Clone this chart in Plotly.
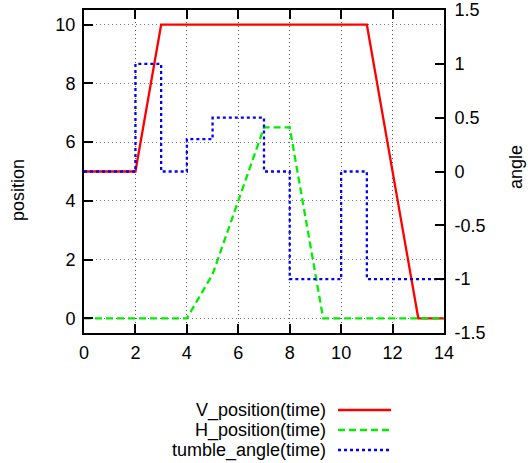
import plotly.graph_objects as go

# Data
v_time = [0, 2, 3, 11, 13, 14]
v_position = [5, 5, 10, 10, 0, 0]

h_time = [0, 4, 5, 6, 7, 8, 9.3, 14]
h_position = [0, 0, 1.5, 4, 6.5, 6.5, 0, 0]

a_time = [0, 1, 2, 3, 4, 5, 6, 7, 8, 9, 10, 11, 12, 13, 14]
tumble_angle = [0, 0, 1, 0, 0.3, 0.5, 0.5, 0, -1, -1, 0, -1, -1, -1, -1]

x_ticks = [0, 2, 4, 6, 8, 10, 12, 14]
y_ticks = [0, 2, 4, 6, 8, 10]
y2_ticks = [-1.5, -1, -0.5, 0, 0.5, 1, 1.5]
y2_labels = ["-1.5", "-1", "-0.5", "0", "0.5", "1", "1.5"]

names = ["V_position(time)", "H_position(time)", "tumble_angle(time)"]
colors = ["#ff0000", "#00ee00", "#0000ff"]
dashes = ["solid", "7px,4px", "3px,3px"]

FONT = "Liberation Sans, Arial, sans-serif"
FS = 18

W, H = 528, 463
# desired plot area in page pixels
PL, PR, PT, PB = 84, 444, 10, 333
L, T, R, B = PL, PT, W - PR, H - PB
pw, ph = W - L - R, H - T - B


def px2paper(px, py):
    return (px - L) / pw, (H - B - py) / ph


fig = go.Figure()
fig.add_trace(go.Scatter(x=v_time, y=v_position, mode="lines", name=names[0],
                         line=dict(color=colors[0], width=2.3, dash=dashes[0]),
                         showlegend=False))
fig.add_trace(go.Scatter(x=h_time, y=h_position, mode="lines", name=names[1],
                         line=dict(color=colors[1], width=2.3, dash=dashes[1]),
                         showlegend=False))
fig.add_trace(go.Scatter(x=a_time, y=tumble_angle, mode="lines", name=names[2],
                         line=dict(color=colors[2], width=2.3, dash=dashes[2], shape="hv"),
                         yaxis="y2", showlegend=False))

axis_common = dict(showline=True, linecolor="black", linewidth=2,
                   ticks="inside", tickcolor="black", tickwidth=2, ticklen=9,
                   tickfont=dict(family=FONT, size=FS, color="black"),
                   zeroline=False, automargin=False, ticklabeloverflow="allow")

fig.update_layout(
    width=W, height=H,
    margin=dict(l=L, r=R, t=T, b=B, autoexpand=False),
    paper_bgcolor="white", plot_bgcolor="white",
    font=dict(family=FONT, size=FS, color="black"),
    xaxis=dict(range=[0, 14], tickvals=x_ticks, mirror="ticks", ticklabelstandoff=2,
               showgrid=True, gridcolor="#555", gridwidth=1, griddash="1px,3px",
               **axis_common),
    yaxis=dict(range=[-0.5, 10.5], tickvals=y_ticks, mirror=True, ticklabelstandoff=3,
               showgrid=True, gridcolor="#777", gridwidth=1, griddash="1px,3px",
               **axis_common),
    yaxis2=dict(range=[-1.5, 1.5], tickvals=y2_ticks, ticktext=y2_labels,
                overlaying="y", side="right", showgrid=False, ticklabelstandoff=5,
                **axis_common),
    showlegend=False,
)

# axis titles
ax, ay = px2paper(18, 190)
fig.add_annotation(text="position", x=ax, y=ay, xref="paper", yref="paper",
                   xanchor="center", yanchor="middle",
                   showarrow=False, textangle=-90, font=dict(size=FS))
ax, ay = px2paper(516, 167)
fig.add_annotation(text="angle", x=ax, y=ay, xref="paper", yref="paper",
                   xanchor="center", yanchor="middle",
                   showarrow=False, textangle=-90, font=dict(size=FS))

# manual key: text to the left, line sample to the right
key_rows = [410, 430, 450]
for name, col, dsh, py in zip(names, colors, dashes, key_rows):
    tx, ty = px2paper(328, py)
    fig.add_annotation(text=name, x=tx, y=ty, xref="paper", yref="paper",
                       xanchor="right", yanchor="middle", showarrow=False,
                       font=dict(size=FS))
    x0, y0 = px2paper(338, py)
    x1, _ = px2paper(391, py)
    fig.add_shape(type="line", xref="paper", yref="paper", x0=x0, x1=x1, y0=y0, y1=y0,
                  line=dict(color=col, width=2.3, dash=dsh))

fig.write_html("out.html", config={"displayModeBar": False},
               post_script="document.body.style.margin='0';document.body.style.overflow='hidden';")
